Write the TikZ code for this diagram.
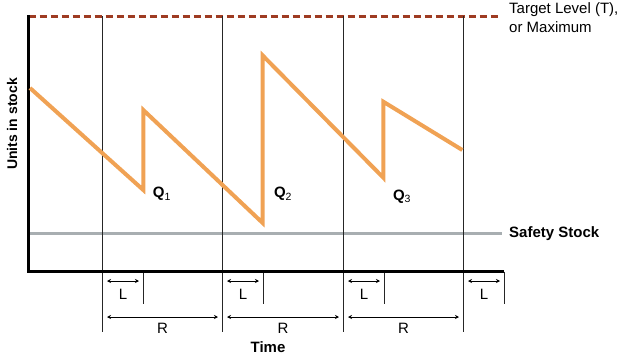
\documentclass[tikz,border=0pt]{standalone}
\usepackage{fontspec}
\setmainfont{Liberation Sans}
\usetikzlibrary{arrows.meta}

\definecolor{stockorange}{HTML}{F0A254}
\definecolor{targetbrown}{HTML}{9E3B22}
\definecolor{safetygray}{HTML}{A8AEB1}

\begin{document}
\begin{tikzpicture}[x=1pt, y=-1pt,
    axis/.style={line width=3pt, black},
    period/.style={line width=0.9pt, black!85},
    target/.style={line width=3pt, targetbrown, dash pattern=on 7pt off 4pt},
    safety/.style={line width=3pt, safetygray},
    stock/.style={line width=4pt, stockorange, line join=miter},
    dim/.style={line width=0.9pt, {Stealth[length=4pt,width=4pt]}-{Stealth[length=4pt,width=4pt]}},
    lbl/.style={font=\fontsize{15}{19}\selectfont, inner sep=0pt},
    bold lbl/.style={lbl, font=\fontsize{15}{19}\selectfont\bfseries}
]
\useasboundingbox (0,0) rectangle (626,359);

% reference levels
\coordinate (T0) at (28.5,16);
\coordinate (T1) at (500,16);
\coordinate (S0) at (28.5,233.5);
\coordinate (S1) at (502,233.5);
\draw[target] (T0) -- (T1);
\draw[safety] (S0) -- (S1);

% review periods and lead times
\foreach \x [count=\i] in {102,222,343,463} {
    \coordinate (top\i) at (\x,16);
    \coordinate (bot\i) at (\x,332);
    \coordinate (lt\i) at ({\x+41},271.5);
    \coordinate (lb\i) at ({\x+41},304);
    \coordinate (la\i) at ({\x+5},281);
    \coordinate (lz\i) at ({\x+37},281);
    \draw[period] (top\i) -- (bot\i);
    \draw[period] (lt\i) -- (lb\i);
    \draw[dim] (la\i) -- node[lbl, below=8pt] {L} (lz\i);
}
\coordinate (ra1) at (107,317);
\coordinate (rz1) at (218,317);
\coordinate (ra2) at (227,317);
\coordinate (rz2) at (339,317);
\coordinate (ra3) at (348,317);
\coordinate (rz3) at (459,317);
\foreach \i in {1,2,3}
    \draw[dim] (ra\i) -- node[lbl, below=6pt] {R} (rz\i);

% axes
\coordinate (origin) at (28.5,271.5);
\draw[axis] (28.5,15) -- (origin) -- (504,271.5);

% stock on hand
\draw[stock] (30,88) -- (143.3,190) -- (143.3,110) -- (262.7,223)
    -- (262.7,55.5) -- (383.3,177.7) -- (383.3,101.7) -- (462.3,150);

% labels
\node[bold lbl] (q1) at (162,194) {Q\textsubscript{\mdseries 1}};
\node[bold lbl] (q2) at (283,194) {Q\textsubscript{\mdseries 2}};
\node[bold lbl] (q3) at (402,196.5) {Q\textsubscript{\mdseries 3}};
\node[lbl, anchor=west, align=left] (targetlbl) at (509,17.5) {Target Level (T),\\or Maximum};
\node[bold lbl, anchor=west] (safetylbl) at (509,233.5) {Safety Stock};
\node[bold lbl] (timelbl) at (268,347) {Time};
\node[bold lbl, rotate=90, font=\fontsize{14}{17}\selectfont\bfseries] (unitslbl) at (12,124) {Units in stock};
\end{tikzpicture}
\end{document}
